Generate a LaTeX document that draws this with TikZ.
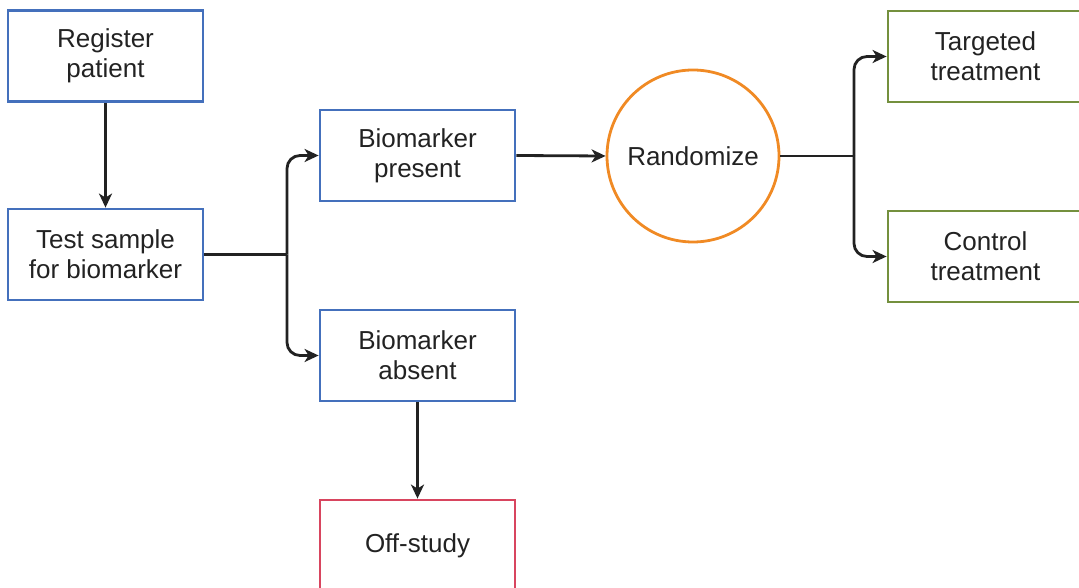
\documentclass[tikz,border=0pt]{standalone}
\usepackage{fontspec}
\setmainfont{Liberation Sans}
\usetikzlibrary{arrows.meta}
\definecolor{boxblue}{HTML}{4470BC}
\definecolor{boxgreen}{HTML}{74903E}
\definecolor{boxred}{HTML}{D8455F}
\definecolor{circorange}{HTML}{F08A24}
\definecolor{ink}{HTML}{222222}
\tikzset{
  label font/.style={font=\fontsize{26}{30}\selectfont},
  box/.style={draw, line width=2.8pt, minimum width=195pt, minimum height=91pt,
    align=center, text=ink, label font, inner sep=0pt},
  bluebox/.style={box, draw=boxblue},
  greenbox/.style={box, draw=boxgreen},
  redbox/.style={box, draw=boxred},
  circ/.style={circle, draw=circorange, line width=2.8pt, minimum size=172pt,
    text=ink, label font, inner sep=0pt},
  arr/.style={draw=ink, line width=2.8pt, -{Stealth[length=14pt,width=13pt,inset=4pt]}},
  link/.style={draw=ink, line width=2.8pt},
}
\begin{document}
\begin{tikzpicture}[x=1pt,y=-1pt]
\useasboundingbox (0,0) rectangle (1079,588);
% boxes
\node[bluebox] (reg) at (105.5,56) {Register\\patient};
\node[bluebox] (test) at (105.5,254.5) {Test sample\\for biomarker};
\node[bluebox] (pres) at (417.5,155.5) {Biomarker\\present};
\node[bluebox] (abs) at (417.5,355.5) {Biomarker\\absent};
\node[redbox] (off) at (417.5,545.5) {Off-study};
\node[circ] (rand) at (693,156) {Randomize};
\node[greenbox] (targ) at (985.5,56.5) {Targeted\\treatment};
\node[greenbox] (ctrl) at (985.5,256.5) {Control\\treatment};
% split points
\coordinate (ls) at (287,254.5);
\coordinate (rs) at (854,156);
% connectors
\draw[arr] (reg.south) -- (test.north);
\draw[link] (test.east) -- (ls);
\draw[arr, rounded corners=13pt] (ls) |- (pres.west);
\draw[arr, rounded corners=13pt] (ls) |- (abs.west);
\draw[arr] (abs.south) -- (off.north);
\draw[arr] (pres.east) -- (rand.west);
\draw[link] (rand.east) -- (rs);
\draw[arr, rounded corners=13pt] (rs) |- (targ.west);
\draw[arr, rounded corners=13pt] (rs) |- (ctrl.west);
\end{tikzpicture}
\end{document}
